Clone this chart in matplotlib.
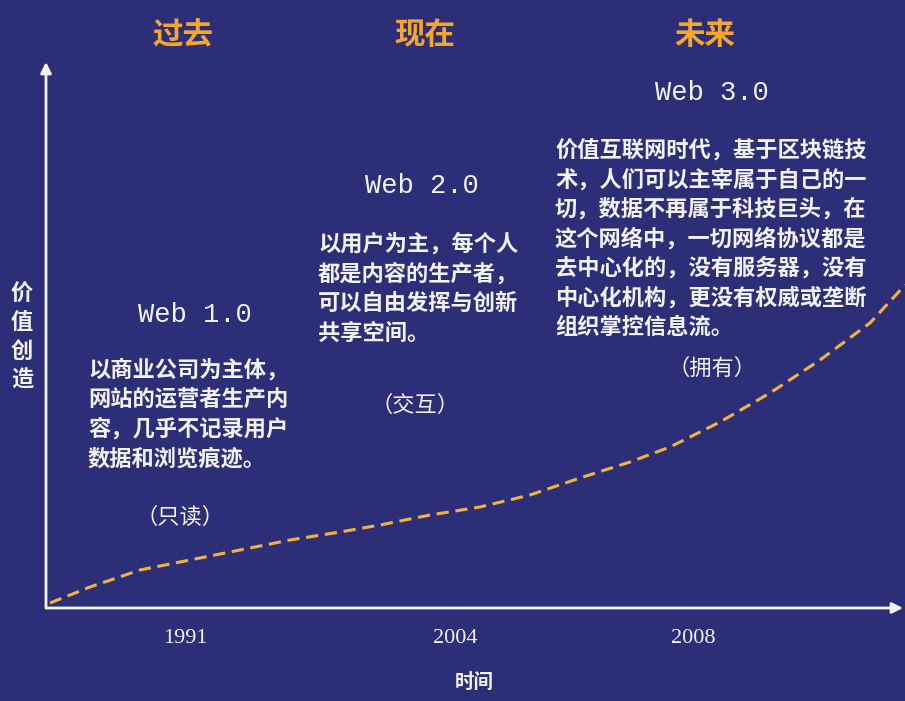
import matplotlib
matplotlib.use('Agg')
import matplotlib.pyplot as plt

plt.rcParams['font.family'] = ['Noto Sans CJK SC', 'DejaVu Sans']

# 价值创造曲线（横轴：时间位置，纵轴：价值）
curve_x = [4, 44, 94, 144, 194, 244, 294, 334, 384, 434, 484, 534, 584, 624, 674, 724, 774, 824, 859]
curve_y = [5, 21, 38, 48, 58, 68, 76, 83, 93, 101, 113, 130, 146, 161, 186, 215, 248, 285, 323]

tick_pos = [139, 409, 647]
tick_labels = ['1991', '2004', '2008']

eras = ['过去', '现在', '未来']
versions = ['Web 1.0', 'Web 2.0', 'Web 3.0']
descriptions = [
    '以商业公司为主体，\n网站的运营者生产内\n容，几乎不记录用户\n数据和浏览痕迹。',
    '以用户为主，每个人\n都是内容的生产者，\n可以自由发挥与创新\n共享空间。',
    '价值互联网时代，基于区块链技\n术，人们可以主宰属于自己的一\n切，数据不再属于科技巨头，在\n这个网络中，一切网络协议都是\n去中心化的，没有服务器，没有\n中心化机构，更没有权威或垄断\n组织掌控信息流。',
]
modes = ['（只读）', '（交互）', '（拥有）']

BG = '#2c2f78'
FG = '#f2f2f2'
ORANGE = '#f3a630'
CURVE = '#f2b23c'

W, H = 905, 701
fig = plt.figure(figsize=(W / 100, H / 100), dpi=100, facecolor=BG)
ax = fig.add_axes([46 / W, 93 / H, 857 / W, 548 / H])
ax.set_facecolor(BG)
ax.set_xlim(0, 857)
ax.set_ylim(0, 548)
for s in ax.spines.values():
    s.set_visible(False)


def px(x, y):
    # 像素坐标 -> 数据坐标
    return x - 46, 608 - y


# 坐标轴箭头
ax.annotate('', xy=(857, 0), xytext=(0, 0),
            arrowprops=dict(arrowstyle='-|>', color=FG, lw=2, mutation_scale=16,
                            shrinkA=0, shrinkB=0))
ax.annotate('', xy=(0, 546), xytext=(0, 0),
            arrowprops=dict(arrowstyle='-|>', color=FG, lw=2, mutation_scale=16,
                            shrinkA=0, shrinkB=0))

ax.plot(curve_x, curve_y, color=CURVE, lw=2.2, linestyle=(0, (4, 2.2)), clip_on=False)

ax.set_xticks(tick_pos)
ax.set_xticklabels(tick_labels, fontfamily='Liberation Serif', fontsize=16, color=FG)
ax.tick_params(axis='x', length=0, pad=15)
ax.set_yticks([])
ax.set_xlabel('时间', color=FG, fontsize=14, fontweight='bold', labelpad=18)

ax.text(*px(22, 337), '价\n值\n创\n造', color=FG, fontsize=16, ha='center', va='center',
        linespacing=1.3, fontweight='bold')

era_pos = [(183, 35), (425, 35), (705, 35)]
for name, (x, y) in zip(eras, era_pos):
    ax.text(*px(x, y), name, color=ORANGE, fontsize=22, fontweight='bold',
            ha='center', va='center')

ver_pos = [(195, 315), (422, 186), (712, 93)]
for name, (x, y) in zip(versions, ver_pos):
    ax.text(*px(x, y), name, color=FG, fontsize=19.5, fontfamily='Liberation Mono',
            ha='center', va='center')

desc_pos = [(88, 359), (318, 233), (555, 139)]
for txt, (x, y) in zip(descriptions, desc_pos):
    ax.text(*px(x, y), txt, color=FG, fontsize=16, fontweight='bold',
            ha='left', va='top', linespacing=1.36)

mode_pos = [(180, 517), (415, 405), (712, 368)]
for txt, (x, y) in zip(modes, mode_pos):
    ax.text(*px(x, y), txt, color=FG, fontsize=16, ha='center', va='center')

fig.savefig('out.png', dpi=100, facecolor=BG)
